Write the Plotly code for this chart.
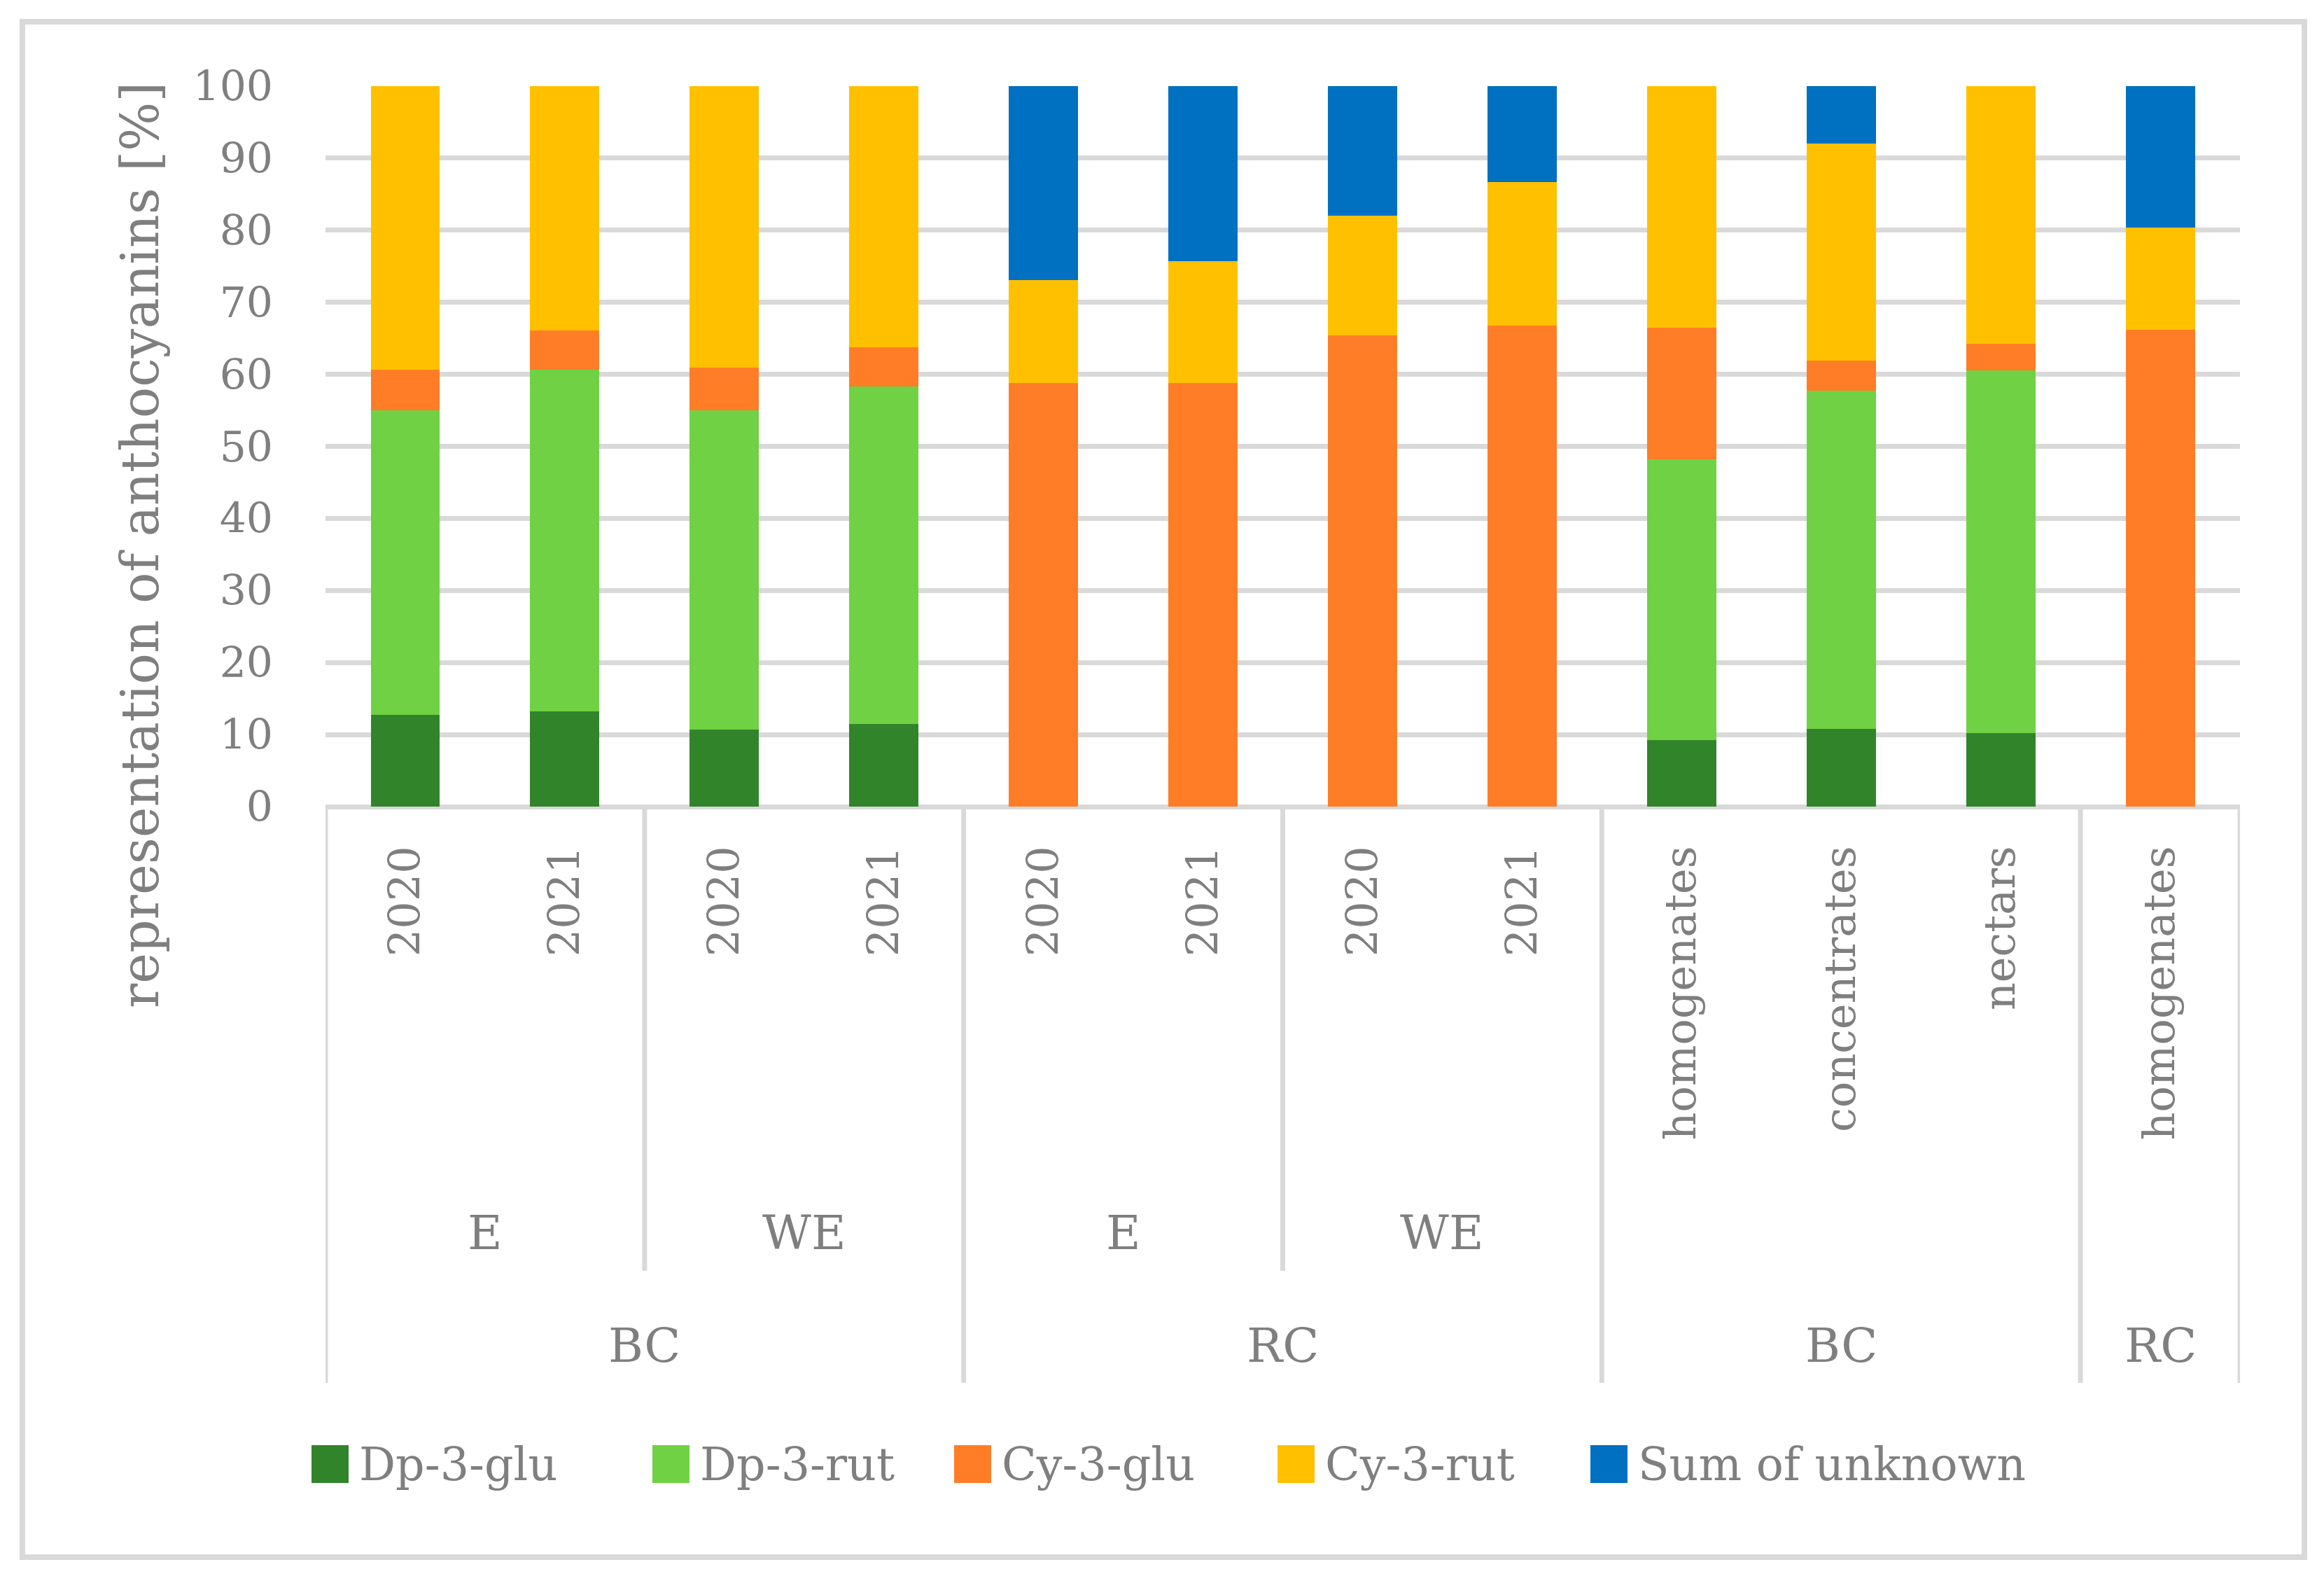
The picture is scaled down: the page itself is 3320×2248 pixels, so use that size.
import plotly.graph_objects as go

# category levels, outer -> inner
juice = ["BC", "BC", "BC", "BC", "RC", "RC", "RC", "RC", "BC", "BC", "BC", "RC"]
extract = ["E", "E", "WE", "WE", "E", "E", "WE", "WE", "", "", "", ""]
sample = ["2020", "2021", "2020", "2021", "2020", "2021", "2020", "2021",
          "homogenates", "concentrates", "nectars", "homogenates"]

# share of each anthocyanin [%]
dp3glu = [12.7, 13.2, 10.7, 11.5, 0, 0, 0, 0, 9.2, 10.8, 10.2, 0]
dp3rut = [42.3, 47.4, 44.3, 46.8, 0, 0, 0, 0, 39.0, 46.9, 50.3, 0]
cy3glu = [5.6, 5.5, 5.9, 5.5, 58.8, 58.8, 65.4, 66.8, 18.3, 4.2, 3.7, 66.2]
cy3rut = [39.4, 33.9, 39.1, 36.2, 14.3, 16.9, 16.6, 19.9, 33.5, 30.1, 35.8, 14.2]
unknown = [0, 0, 0, 0, 26.9, 24.3, 18.0, 13.3, 0, 8.0, 0, 19.6]

series_names = ["Dp-3-glu", "Dp-3-rut", "Cy-3-glu", "Cy-3-rut", "Sum of unknown"]
series_values = [dp3glu, dp3rut, cy3glu, cy3rut, unknown]
colors = ["#31842A", "#6FD143", "#FF7D27", "#FFC000", "#0070C0"]

FONT = "DejaVu Serif"
GREY = "#7F7F7F"
LINE = "#D9D9D9"

# figure / plot area in pixels
W, H = 3320, 2248
L, R, T, B = 465, 3200, 123, 1152


def px_x(px):
    return (px - L) / (R - L)


def px_y(py):
    return (B - py) / (B - T)


keys = [f"{a}|{b}|{c}" for a, b, c in zip(juice, extract, sample)]

fig = go.Figure()
for name, vals, col in zip(series_names, series_values, colors):
    fig.add_trace(go.Bar(
        x=keys, y=vals, name=name,
        marker=dict(color=col, line=dict(width=0)),
        showlegend=False
    ))

shapes = []
annotations = []

# separator lines under the category axis
n = len(keys)
full_bottom = px_y(1975)
mid_bottom = px_y(1815)
bounds = [(-0.5, full_bottom), (n - 0.5, full_bottom)]
for i in range(1, n):
    if juice[i] != juice[i - 1]:
        bounds.append((i - 0.5, full_bottom))
    elif extract[i] != extract[i - 1]:
        bounds.append((i - 0.5, mid_bottom))
for xb, yb in bounds:
    shapes.append(dict(type="line", xref="x", yref="paper", x0=xb, x1=xb,
                       y0=0, y1=yb, line=dict(color=LINE, width=7)))


def runs(levels):
    out = []
    start = 0
    for i in range(1, len(levels) + 1):
        if i == len(levels) or levels[i] != levels[start] or \
                (levels is extract and juice[i] != juice[start]):
            out.append((levels[start], start, i - 1))
            start = i
    return out


for lab, a, b in runs(extract):
    if lab:
        annotations.append(dict(text=lab, xref="x", yref="paper", x=(a + b) / 2,
                                y=px_y(1760), showarrow=False, xanchor="center",
                                yanchor="middle",
                                font=dict(family=FONT, size=68, color=GREY)))
for lab, a, b in runs(juice):
    annotations.append(dict(text=lab, xref="x", yref="paper", x=(a + b) / 2,
                            y=px_y(1921), showarrow=False, xanchor="center",
                            yanchor="middle",
                            font=dict(family=FONT, size=68, color=GREY)))

# y axis title
annotations.append(dict(text="representation of anthocyanins [%]", xref="paper",
                        yref="paper", x=px_x(200), y=px_y(779), textangle=-90,
                        showarrow=False, xanchor="center", yanchor="middle",
                        font=dict(family=FONT, size=74, color=GREY)))

# legend drawn by hand so the swatches are as big as in the original
legend_left = [445, 932, 1363, 1825, 2272]
leg_y = 2091
for name, col, lx in zip(series_names, colors, legend_left):
    shapes.append(dict(type="rect", xref="paper", yref="paper",
                       x0=px_x(lx), x1=px_x(lx + 53),
                       y0=px_y(leg_y + 27), y1=px_y(leg_y - 27),
                       fillcolor=col, line=dict(width=0)))
    annotations.append(dict(text=name, xref="paper", yref="paper",
                            x=px_x(lx + 66), y=px_y(leg_y), showarrow=False,
                            xanchor="left", yanchor="middle",
                            font=dict(family=FONT, size=65, color=GREY)))

# outer chart border
shapes.append(dict(type="rect", xref="paper", yref="paper",
                   x0=px_x(32), x1=px_x(3292), y0=px_y(31), y1=px_y(2224),
                   line=dict(color=LINE, width=8), layer="below"))

fig.update_layout(
    barmode="stack",
    bargap=0.566,
    width=W, height=H,
    margin=dict(l=L, r=W - R, t=T, b=H - B, autoexpand=False),
    paper_bgcolor="white",
    plot_bgcolor="white",
    showlegend=False,
    shapes=shapes,
    annotations=annotations,
)

fig.update_xaxes(
    type="category",
    tickvals=keys, ticktext=sample,
    tickangle=-90,
    ticklabelstandoff=43,
    tickfont=dict(family=FONT, size=62, color=GREY),
    showgrid=False, showline=False, ticks="",
    range=[-0.5, n - 0.5],
)
fig.update_yaxes(
    range=[0, 100], dtick=10,
    showgrid=True, gridcolor=LINE, gridwidth=7,
    zeroline=True, zerolinecolor=LINE, zerolinewidth=7,
    showline=False, ticks="",
    ticklabelstandoff=74,
    tickfont=dict(family=FONT, size=60, color=GREY),
)

# drop the default body margin so the figure sits at the page origin
fig.write_html("out.html", config={"displayModeBar": False},
               post_script="document.body.style.margin='0';")
